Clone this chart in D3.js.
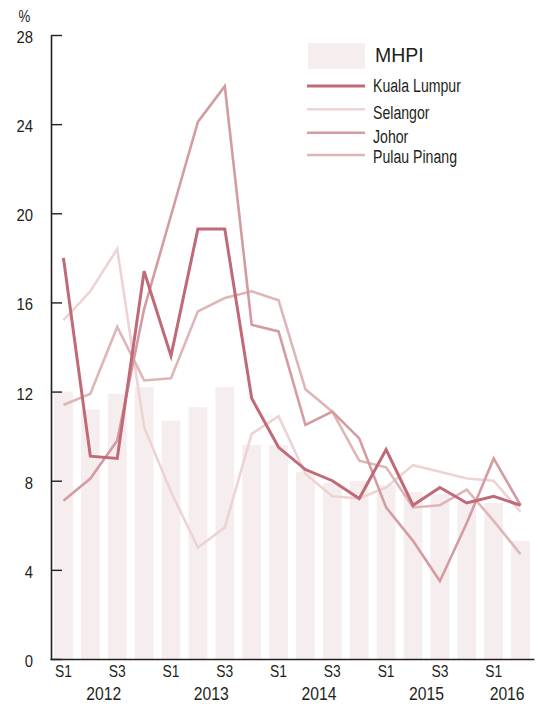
<!DOCTYPE html>
<html>
<head>
<meta charset="utf-8">
<script src="https://cdn.jsdelivr.net/npm/d3@7"></script>
<style>
  html, body { margin: 0; padding: 0; background: #fff; }
  svg text { font-family: "Liberation Sans", Arial, sans-serif; fill: #231f20; }
</style>
</head>
<body>
<svg id="chart" width="538" height="706"></svg>
<script>
// ---- data ----
const quarters = ["2012Q1","2012Q2","2012Q3","2012Q4","2013Q1","2013Q2","2013Q3","2013Q4",
                  "2014Q1","2014Q2","2014Q3","2014Q4","2015Q1","2015Q2","2015Q3","2015Q4",
                  "2016Q1","2016Q2"];
const years = ["2012","2013","2014","2015","2016"];
const quarterLabels = {"Q1":"S1","Q3":"S3"};
const yTicks = [0,4,8,12,16,20,24,28];
const mhpi       = [12.0,11.2,11.9,12.2,10.7,11.3,12.2,9.6,9.6,8.4,7.9,8.0,7.8,7.5,7.4,7.1,7.0,5.3];
const kualaLumpur= [18.0,9.1,9.0,17.4,13.6,19.3,19.3,11.7,9.5,8.5,8.0,7.2,9.4,6.9,7.7,7.0,7.3,6.9];
const selangor   = [15.2,16.5,18.4,10.4,7.5,5.0,5.9,10.1,10.9,8.3,7.3,7.2,7.7,8.7,8.4,8.1,8.0,6.6];
const johor      = [7.1,8.1,9.8,15.7,19.9,24.1,25.7,15.0,14.7,10.5,11.1,9.9,6.8,5.3,3.5,6.1,9.0,6.9];
const pulauPinang= [11.4,11.9,14.9,12.5,12.6,15.6,16.2,16.5,16.1,12.1,11.1,8.9,8.6,6.8,6.9,7.6,6.2,4.7];
const seriesNames = ["Kuala Lumpur","Selangor","Johor","Pulau Pinang"];
const barName = "MHPI";

// ---- styles ----
const barColor = "#f6eeee";
const lineStyles = {
  "Kuala Lumpur": {color:"#c06a77", width:3},
  "Selangor":     {color:"#edd3d3", width:2.6},
  "Johor":        {color:"#d49ca1", width:2.6},
  "Pulau Pinang": {color:"#dfb6b7", width:2.6}
};
const seriesData = {
  "Kuala Lumpur": kualaLumpur, "Selangor": selangor, "Johor": johor, "Pulau Pinang": pulauPinang
};

// horizontally condense text (reference uses a condensed face)
function condense(sel, k) {
  sel.each(function() {
    const t = d3.select(this);
    const tx = +(t.attr("x") || 0), ty = +(t.attr("y") || 0);
    t.attr("x", 0).attr("y", 0)
     .attr("transform", `translate(${tx},${ty}) scale(${k},1)`);
  });
}

const svg = d3.select("#chart");
const x = d3.scaleBand().domain(quarters).range([50, 534]).paddingInner(0.3).paddingOuter(0.15);
const y = d3.scaleLinear().domain([0, 28]).range([659, 35]);
const cx = q => x(q) + x.bandwidth() / 2;

// bars
svg.append("g").selectAll("rect").data(mhpi).join("rect")
  .attr("x", (d,i) => x(quarters[i]))
  .attr("y", d => y(d))
  .attr("width", x.bandwidth())
  .attr("height", d => y(0) - y(d))
  .attr("fill", barColor);

// lines (lightest first, KL on top)
const drawOrder = ["Selangor","Pulau Pinang","Johor","Kuala Lumpur"];
const line = d3.line().x((d,i) => cx(quarters[i])).y(d => y(d));
drawOrder.forEach(name => {
  svg.append("path").datum(seriesData[name])
    .attr("d", line)
    .attr("fill","none")
    .attr("stroke", lineStyles[name].color)
    .attr("stroke-width", lineStyles[name].width)
    .attr("stroke-linejoin","miter");
});

// y axis
const yAxis = svg.append("g").attr("transform","translate(51,0)")
  .call(d3.axisLeft(y).tickValues(yTicks).tickSize(-11).tickSizeOuter(0).tickPadding(18));
yAxis.select(".domain").attr("stroke","#231f20").attr("stroke-width",1.6);
yAxis.selectAll(".tick line").attr("stroke","#231f20").attr("stroke-width",1.4);
yAxis.selectAll(".tick text").attr("font-size",16.5).attr("dy","0.45em").attr("fill","#231f20");
condense(yAxis.selectAll(".tick text"), 0.9);

const pct = svg.append("text").attr("x",24.5).attr("y",21.5).attr("text-anchor","middle")
  .attr("font-size",16).text("%");
condense(pct, 0.83);

// x axis
const xAxis = svg.append("g").attr("transform","translate(0,659)")
  .call(d3.axisBottom(x)
    .tickValues(quarters.filter(q => quarterLabels[q.slice(4)]))
    .tickFormat(q => quarterLabels[q.slice(4)])
    .tickSize(0).tickSizeOuter(0).tickPadding(6));
xAxis.select(".domain").attr("stroke","#231f20").attr("stroke-width",1.6);
xAxis.selectAll(".tick text").attr("font-size",16.5).attr("dy","0.71em").attr("fill","#231f20");
condense(xAxis.selectAll(".tick text"), 0.84);

// year labels centred under each year's quarters
const yearText = svg.append("g").selectAll("text").data(years).join("text")
  .attr("x", yr => {
    const qs = quarters.filter(q => q.startsWith(yr));
    return (cx(qs[0]) + cx(qs[qs.length-1])) / 2;
  })
  .attr("y", 700)
  .attr("text-anchor","middle")
  .attr("font-size",18.5)
  .text(yr => yr);
condense(yearText, 0.85);

// legend
const lg = svg.append("g");
lg.append("rect").attr("x",308).attr("y",43).attr("width",57).attr("height",26).attr("fill",barColor);
lg.append("text").attr("x",375).attr("y",62.3).attr("font-size",19.5).text(barName);
const legendLineY = [86, 109.3, 132.7, 155];
const legendTextY = [91.5, 119.3, 142.7, 163.3];
seriesNames.forEach((name,i) => {
  lg.append("line").attr("x1",307).attr("x2",365)
    .attr("y1",legendLineY[i]).attr("y2",legendLineY[i])
    .attr("stroke",lineStyles[name].color).attr("stroke-width",lineStyles[name].width);
  const t = lg.append("text").attr("x",373).attr("y",legendTextY[i]).attr("font-size",18.6).text(name);
  condense(t, 0.76);
});
</script>
</body>
</html>
